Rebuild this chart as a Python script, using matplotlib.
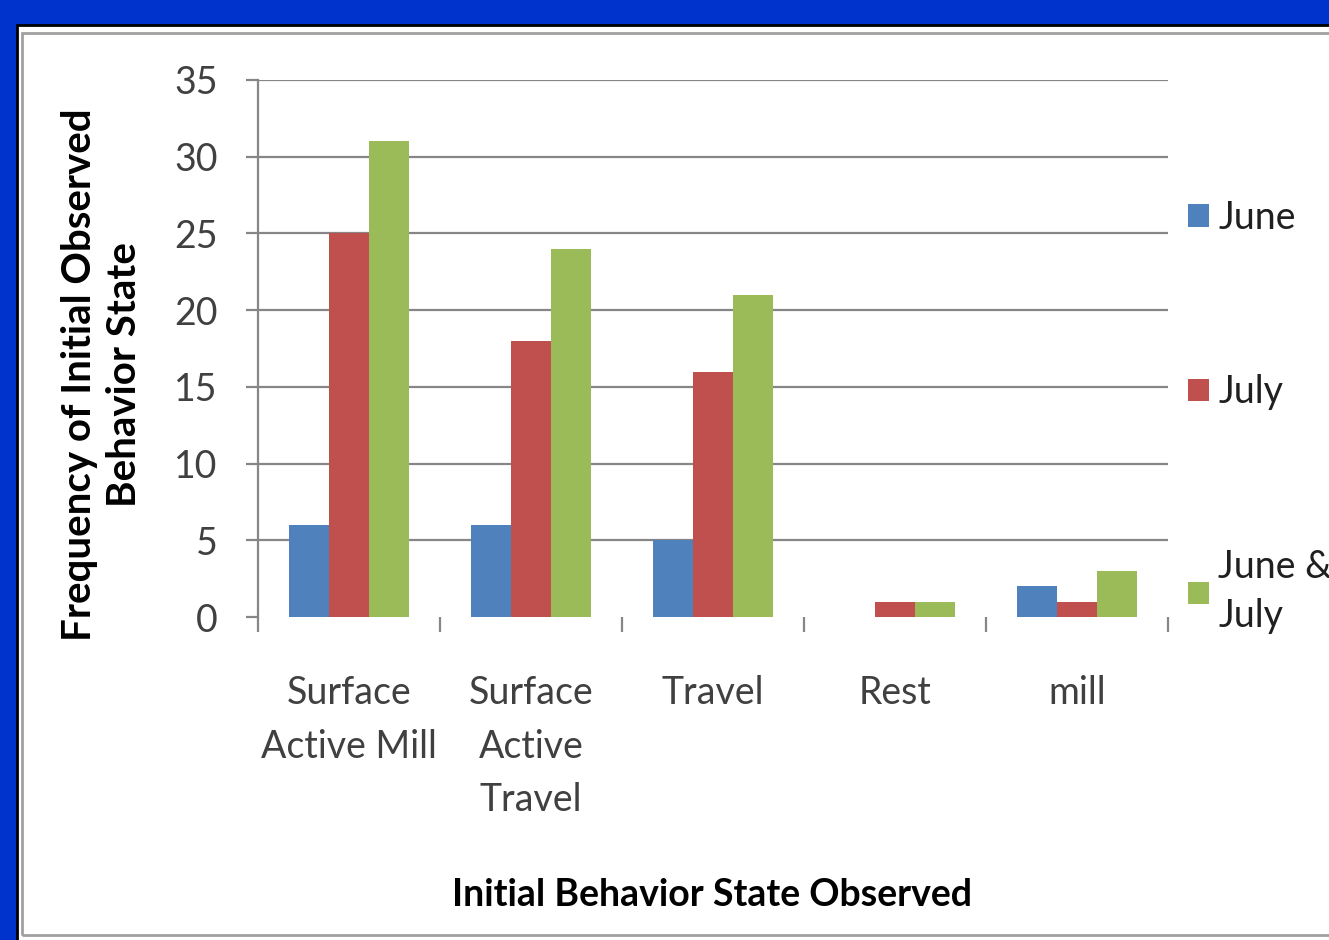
import matplotlib.pyplot as plt
from matplotlib.patches import Rectangle, Patch
import numpy as np

# Behaviour categories and counts per survey period
categories = ['Surface\nActive Mill', 'Surface\nActive\nTravel', 'Travel', 'Rest', 'mill']
june = [6, 6, 5, 0, 2]
july = [25, 18, 16, 1, 1]
june_july = [31, 24, 21, 1, 3]
series_names = ['June', 'July', 'June &\nJuly']
series_colors = ['#4F81BD', '#C0504D', '#9BBB59']

plt.rcParams['font.family'] = ['Lato', 'DejaVu Sans']

fig = plt.figure(figsize=(13.29, 9.40), dpi=100)
fig.patch.set_facecolor('#0033CC')

# white slide panel with black outline and grey chart border
fig.add_artist(Rectangle((17 / 1329, -0.1), 1.2, 1 - 25 / 940 + 0.1,
                         transform=fig.transFigure, facecolor='white',
                         edgecolor='black', linewidth=2, zorder=0))
fig.add_artist(Rectangle((22 / 1329, 5 / 940), 1.2, 1 - 38 / 940,
                         transform=fig.transFigure, facecolor='none',
                         edgecolor='#A0A0A0', linewidth=2, zorder=0))

ax = fig.add_axes([258 / 1329, 1 - 617 / 940, 910 / 1329, 537 / 940])
ax.set_facecolor('none')

x = np.arange(len(categories))
w = 0.22
for i, (vals, name, col) in enumerate(zip([june, july, june_july], series_names, series_colors)):
    ax.bar(x + (i - 1) * w, vals, width=w, color=col, label=name, zorder=3)

ax.set_xlim(-0.5, len(categories) - 0.5)
ax.set_ylim(0, 35)
ax.set_yticks(range(0, 36, 5))
ax.yaxis.grid(True, color='#868686', linewidth=1.6, zorder=0)
ax.yaxis.get_gridlines()[0].set_visible(False)
ax.set_axisbelow(True)

for s in ['top', 'right', 'bottom']:
    ax.spines[s].set_visible(False)
ax.spines['left'].set_color('#868686')
ax.spines['left'].set_linewidth(1.6)
ax.spines['left'].set_bounds(0, 35)

ax.set_xticks(x)
ax.set_xticklabels(categories, fontsize=27, color='#404040', linespacing=1.6)
ax.tick_params(axis='x', which='major', length=0, pad=42)
ax.set_xticks(np.arange(-0.5, len(categories)), minor=True)
ax.tick_params(axis='x', which='minor', length=11, width=1.6, color='#868686', direction='out')
ax.tick_params(axis='y', labelsize=27, labelcolor='#404040', length=9, width=1.6,
               color='#868686', pad=20)

fig.text(102 / 1329, 1 - 375 / 940, 'Frequency of Initial Observed\nBehavior State',
         rotation=90, ha='center', va='center', fontsize=29, fontweight='bold',
         linespacing=1.25)
fig.text(712 / 1329, 1 - 895 / 940, 'Initial Behavior State Observed',
         ha='center', va='center', fontsize=27, fontweight='bold')

handles = [Patch(facecolor=c) for c in series_colors]
leg = ax.legend(handles, series_names, loc='upper left', bbox_to_anchor=(0.985, 0.84),
                frameon=False, fontsize=27, labelspacing=3.7, handlelength=0.55,
                handleheight=0.55, handletextpad=0.25, labelcolor='#202020')
leg.get_texts()[2].set_linespacing(1.45)

fig.savefig('out.png', dpi=100, facecolor=fig.get_facecolor())
